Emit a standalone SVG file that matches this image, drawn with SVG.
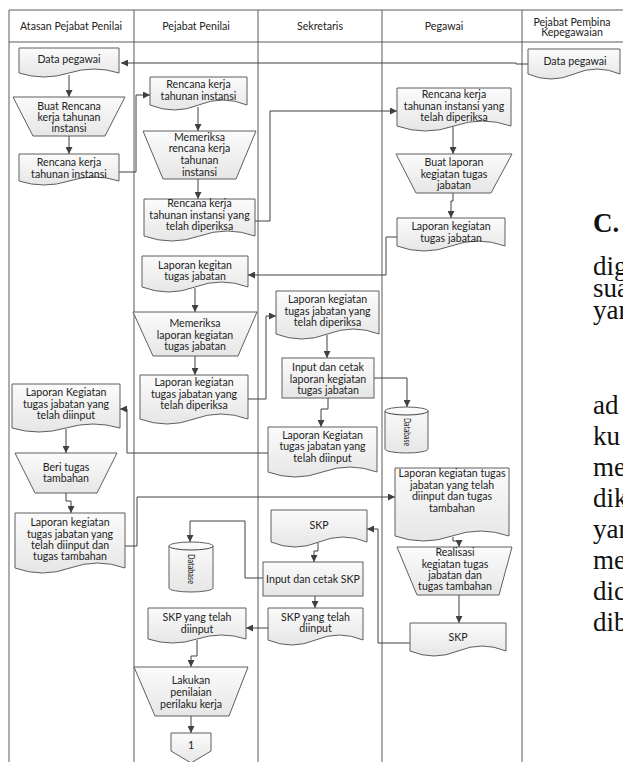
<svg xmlns="http://www.w3.org/2000/svg" width="623" height="762" viewBox="0 0 623 762">
  <defs>
    <linearGradient id="fillGrad" x1="0" y1="0" x2="0" y2="1">
      <stop offset="0" stop-color="#fbfbfb"/>
      <stop offset="1" stop-color="#e6e6e6"/>
    </linearGradient>
    <marker id="arrow" viewBox="0 0 8 8" refX="8" refY="4" markerWidth="7" markerHeight="7" markerUnits="userSpaceOnUse" orient="auto">
      <path d="M0,0 L8,4 L0,8 Z" fill="#404040"/>
    </marker>
  </defs>
  <style>
    .lane { stroke: #5b5b5b; stroke-width: 1; fill: none; }
    .shape { fill: url(#fillGrad); stroke: #5e5e5e; stroke-width: 1; }
    .conn { fill: none; stroke: #404040; stroke-width: 1; marker-end: url(#arrow); }
    .line { fill: none; stroke: #404040; stroke-width: 1; }
    text { font-family: Lato, "Liberation Sans", sans-serif; font-size: 10.6px; fill: #222; }
    .c { text-anchor: middle; }
    .db { font-size: 8.5px; }
    .page { font-family: "Liberation Serif", serif; font-size: 27px; fill: #111; }
  </style>
  <rect width="623" height="762" fill="#ffffff"/>

  <!-- swimlane frame -->
  <g id="lanes">
    <path class="lane" d="M9,10 H623 M9,42 H623 M9,10 V762 M134,10 V762 M258,10 V762 M382,10 V762 M522,10 V762"/>
    <text class="c" x="71" y="30">Atasan Pejabat Penilai</text>
    <text class="c" x="196" y="30">Pejabat Penilai</text>
    <text class="c" x="320" y="30">Sekretaris</text>
    <text class="c" x="444" y="30">Pegawai</text>
    <text class="c" x="572" y="25.5">Pejabat Pembina</text>
    <text class="c" x="572" y="36">Kepegawaian</text>
  </g>

  <!-- connectors -->
  <g id="connectors">
    <path class="conn" d="M528,64 H516 V63 H121"/>
    <path class="conn" d="M69,75 V97"/>
    <path class="conn" d="M69,136 V154"/>
    <path class="conn" d="M119,172 H136 V95 H150"/>
    <path class="conn" d="M198,107 V131"/>
    <path class="conn" d="M198,179 V199"/>
    <path class="conn" d="M255,221 H270 V111 H397"/>
    <path class="conn" d="M453,127 V154"/>
    <path class="conn" d="M453,193 V201 H451 V218"/>
    <path class="conn" d="M397,237 H386 V275 H248"/>
    <path class="conn" d="M195,288 V312"/>
    <path class="conn" d="M195,356 V375"/>
    <path class="conn" d="M248,399 H266 V316 H276"/>
    <path class="conn" d="M327,335 V358"/>
    <path class="conn" d="M374,378 H407 V407"/>
    <path class="conn" d="M328,398 V409 H321 V427"/>
    <path class="conn" d="M268,453 H127 V409 H120"/>
    <path class="conn" d="M66,429 V453"/>
    <path class="conn" d="M66,493 V501 H71 V513"/>
    <path class="conn" d="M125,546 H137 V497 H395"/>
    <path class="conn" d="M453,537 V541 H459 V547"/>
    <path class="conn" d="M459,595 V623"/>
    <path class="conn" d="M410,643 H378 V529 H367"/>
    <path class="conn" d="M318,543 V551 H314 V562"/>
    <path class="conn" d="M263,578 H245 V521 H190 V542"/>
    <path class="conn" d="M315,596 V608"/>
    <path class="conn" d="M268,628 H246"/>
    <path class="conn" d="M197,640 V656 H191 V667"/>
    <path class="conn" d="M191,716 V733"/>
  </g>

  <!-- Atasan Pejabat Penilai -->
  <g id="atasan-data-pegawai">
    <path class="shape" d="M19,48 H119 V73 Q94,65 69,73 T19,73 Z"/>
    <text class="c" x="69" y="63">Data pegawai</text>
  </g>
  <g id="atasan-buat-rencana">
    <polygon class="shape" points="13,97 125,97 105,136 33,136"/>
    <text class="c" x="69" y="110">Buat Rencana</text>
    <text class="c" x="69" y="121">kerja tahunan</text>
    <text class="c" x="69" y="132">instansi</text>
  </g>
  <g id="atasan-rencana-kerja">
    <path class="shape" d="M19,154 H119 V181 Q94,173 69,181 T19,181 Z"/>
    <text class="c" x="69" y="166">Rencana kerja</text>
    <text class="c" x="69" y="178">tahunan instansi</text>
  </g>
  <g id="atasan-laporan-diinput">
    <path class="shape" d="M12,384 H120 V428 Q93,420 66,428 T12,428 Z"/>
    <text class="c" x="66" y="396">Laporan Kegiatan</text>
    <text class="c" x="66" y="408">tugas jabatan yang</text>
    <text class="c" x="66" y="419">telah diinput</text>
  </g>
  <g id="atasan-beri-tugas">
    <polygon class="shape" points="15,453 117,453 97,493 35,493"/>
    <text class="c" x="66" y="471">Beri tugas</text>
    <text class="c" x="66" y="482">tambahan</text>
  </g>
  <g id="atasan-laporan-tambahan">
    <path class="shape" d="M15,513 H125 V568 Q97.5,558 70,568 T15,568 Z"/>
    <text class="c" x="70" y="526">Laporan kegiatan</text>
    <text class="c" x="70" y="538">tugas jabatan yang</text>
    <text class="c" x="70" y="549">telah diinput dan</text>
    <text class="c" x="70" y="560">tugas tambahan</text>
  </g>

  <!-- Pejabat Penilai -->
  <g id="penilai-rencana-kerja">
    <path class="shape" d="M150,77 H247 V105 Q222.75,95 198.5,105 T150,105 Z"/>
    <text class="c" x="198.5" y="88">Rencana kerja</text>
    <text class="c" x="198.5" y="100">tahunan instansi</text>
  </g>
  <g id="penilai-memeriksa-rencana">
    <polygon class="shape" points="143,131 256,131 236,179 163,179"/>
    <text class="c" x="199.5" y="141">Memeriksa</text>
    <text class="c" x="199.5" y="152">rencana kerja</text>
    <text class="c" x="199.5" y="164">tahunan</text>
    <text class="c" x="199.5" y="176">instansi</text>
  </g>
  <g id="penilai-rencana-diperiksa">
    <path class="shape" d="M144,199 H255 V236 Q227.25,226 199.5,236 T144,236 Z"/>
    <text class="c" x="199.5" y="207">Rencana kerja</text>
    <text class="c" x="199.5" y="219">tahunan instansi yang</text>
    <text class="c" x="199.5" y="230">telah diperiksa</text>
  </g>
  <g id="penilai-laporan-kegitan">
    <path class="shape" d="M142,256 H248 V287 Q221.5,277 195,287 T142,287 Z"/>
    <text class="c" x="195" y="269">Laporan kegitan</text>
    <text class="c" x="195" y="280">tugas jabatan</text>
  </g>
  <g id="penilai-memeriksa-laporan">
    <polygon class="shape" points="133,312 257,312 238,356 153,356"/>
    <text class="c" x="195" y="327">Memeriksa</text>
    <text class="c" x="195" y="339">laporan kegiatan</text>
    <text class="c" x="195" y="350">tugas jabatan</text>
  </g>
  <g id="penilai-laporan-diperiksa">
    <path class="shape" d="M140,375 H248 V419 Q221,409 194,419 T140,419 Z"/>
    <text class="c" x="194" y="386">Laporan kegiatan</text>
    <text class="c" x="194" y="398">tugas jabatan yang</text>
    <text class="c" x="194" y="409">telah diperiksa</text>
  </g>
  <g id="penilai-database">
    <path class="shape" d="M169,546 A22,4 0 0 1 213,546 V588 A22,4 0 0 1 169,588 Z"/>
    <path class="line" d="M169,546 A22,4 0 0 0 213,546"/>
    <text class="c db" transform="translate(191,569) rotate(90)" dominant-baseline="central" textLength="30" lengthAdjust="spacingAndGlyphs">Database</text>
  </g>
  <g id="penilai-skp-diinput">
    <path class="shape" d="M148,608 H246 V639 Q221.5,631 197,639 T148,639 Z"/>
    <text class="c" x="197" y="621">SKP yang telah</text>
    <text class="c" x="197" y="633">diinput</text>
  </g>
  <g id="penilai-lakukan-penilaian">
    <polygon class="shape" points="134,667 248,667 229,716 155,716"/>
    <text class="c" x="191" y="684">Lakukan</text>
    <text class="c" x="191" y="696">penilaian</text>
    <text class="c" x="191" y="708">perilaku kerja</text>
  </g>
  <g id="penilai-offpage-1">
    <polygon class="shape" points="171,733 211,733 211,751 191,763 171,751"/>
    <text class="c" x="191" y="749">1</text>
  </g>

  <!-- Sekretaris -->
  <g id="sekretaris-laporan-diperiksa">
    <path class="shape" d="M276,291 H379 V334 Q353.25,324 327.5,334 T276,334 Z"/>
    <text class="c" x="327.5" y="303">Laporan kegiatan</text>
    <text class="c" x="327.5" y="315">tugas jabatan yang</text>
    <text class="c" x="327.5" y="326">telah diperiksa</text>
  </g>
  <g id="sekretaris-input-laporan">
    <rect class="shape" x="282" y="358" width="92" height="40"/>
    <text class="c" x="328" y="371">Input dan cetak</text>
    <text class="c" x="328" y="383">laporan kegiatan</text>
    <text class="c" x="328" y="394">tugas jabatan</text>
  </g>
  <g id="sekretaris-laporan-diinput">
    <path class="shape" d="M268,427 H377 V472 Q349.75,462 322.5,472 T268,472 Z"/>
    <text class="c" x="322.5" y="439">Laporan Kegiatan</text>
    <text class="c" x="322.5" y="450">tugas jabatan yang</text>
    <text class="c" x="322.5" y="462">telah diinput</text>
  </g>
  <g id="sekretaris-database">
    <path class="shape" d="M385,411 A21.5,4 0 0 1 428,411 V449 A21.5,4 0 0 1 385,449 Z"/>
    <path class="line" d="M385,411 A21.5,4 0 0 0 428,411"/>
    <text class="c db" transform="translate(406.5,432) rotate(90)" dominant-baseline="central" textLength="28" lengthAdjust="spacingAndGlyphs">Database</text>
  </g>
  <g id="sekretaris-skp">
    <path class="shape" d="M271,510 H367 V542 Q343,532 319,542 T271,542 Z"/>
    <text class="c" x="319" y="529">SKP</text>
  </g>
  <g id="sekretaris-input-skp">
    <rect class="shape" x="263" y="562" width="100" height="34"/>
    <text class="c" x="313" y="583">Input dan cetak SKP</text>
  </g>
  <g id="sekretaris-skp-diinput">
    <path class="shape" d="M268,608 H363 V640 Q339.25,630 315.5,640 T268,640 Z"/>
    <text class="c" x="315.5" y="621">SKP yang telah</text>
    <text class="c" x="315.5" y="632">diinput</text>
  </g>

  <!-- Pegawai -->
  <g id="pegawai-rencana-diperiksa">
    <path class="shape" d="M397,88 H511 V126 Q482.5,116 454,126 T397,126 Z"/>
    <text class="c" x="454" y="98">Rencana kerja</text>
    <text class="c" x="454" y="110">tahunan instansi yang</text>
    <text class="c" x="454" y="121">telah diperiksa</text>
  </g>
  <g id="pegawai-buat-laporan">
    <polygon class="shape" points="396,154 512,154 491,193 416,193"/>
    <text class="c" x="454" y="166">Buat laporan</text>
    <text class="c" x="454" y="178">kegiatan tugas</text>
    <text class="c" x="454" y="189">jabatan</text>
  </g>
  <g id="pegawai-laporan-kegiatan">
    <path class="shape" d="M397,218 H505 V246 Q478,236 451,246 T397,246 Z"/>
    <text class="c" x="451" y="230">Laporan kegiatan</text>
    <text class="c" x="451" y="242">tugas jabatan</text>
  </g>
  <g id="pegawai-laporan-tambahan">
    <path class="shape" d="M395,468 H509 V536 Q480.5,526 452,536 T395,536 Z"/>
    <text class="c" x="452" y="477">Laporan kegiatan tugas</text>
    <text class="c" x="452" y="489">jabatan yang telah</text>
    <text class="c" x="452" y="500">diinput dan tugas</text>
    <text class="c" x="452" y="512">tambahan</text>
  </g>
  <g id="pegawai-realisasi">
    <polygon class="shape" points="397,547 512,547 499,595 417,595"/>
    <text class="c" x="455" y="556">Realisasi</text>
    <text class="c" x="455" y="568">kegiatan tugas</text>
    <text class="c" x="455" y="579">jabatan dan</text>
    <text class="c" x="455" y="590">tugas tambahan</text>
  </g>
  <g id="pegawai-skp">
    <path class="shape" d="M410,623 H506 V651 Q482,641 458,651 T410,651 Z"/>
    <text class="c" x="458" y="641">SKP</text>
  </g>

  <!-- Pejabat Pembina Kepegawaian -->
  <g id="pembina-data-pegawai">
    <path class="shape" d="M528,49 H620 V74 Q597,64 574,74 T528,74 Z"/>
    <text class="c" x="575" y="65">Data pegawai</text>
  </g>

  <!-- surrounding page text -->
  <g id="page-text">
    <text class="page" x="593" y="232" font-weight="bold">C.</text>
    <text class="page" x="593" y="275">dig</text>
    <text class="page" x="593" y="297">sua</text>
    <text class="page" x="593" y="319">yan</text>
    <text class="page" x="593" y="414">ad</text>
    <text class="page" x="593" y="445">ku</text>
    <text class="page" x="593" y="476">me</text>
    <text class="page" x="593" y="507">dik</text>
    <text class="page" x="593" y="538">yan</text>
    <text class="page" x="593" y="569">me</text>
    <text class="page" x="593" y="600">dic</text>
    <text class="page" x="593" y="631">dib</text>
  </g>
</svg>
